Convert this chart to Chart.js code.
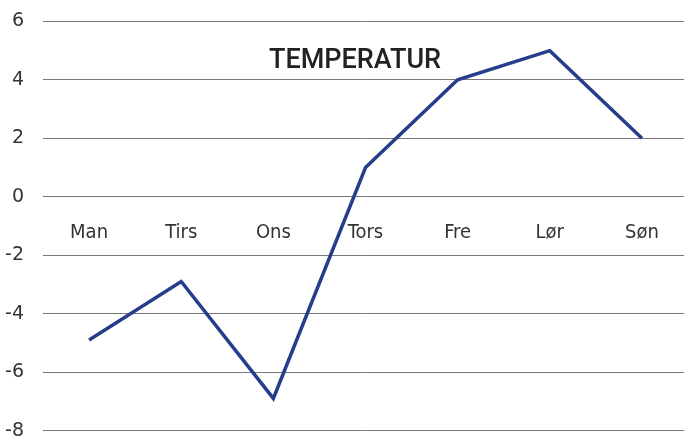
<!DOCTYPE html>
<html>
<head>
<meta charset="utf-8">
<script src="https://cdn.jsdelivr.net/npm/chart.js@4/dist/chart.umd.min.js"></script>
<style>
  html, body { margin: 0; padding: 0; background: #fff; overflow: hidden; }
  #wrap { width: 688px; height: 470px; margin-top: -9px; }
</style>
</head>
<body>
<div id="wrap"><canvas id="temp-chart"></canvas></div>
<script>
var days = ["Man", "Tirs", "Ons", "Tors", "Fre", "Lør", "Søn"];
var temperatures = [-4.9, -2.9, -6.9, 1, 4, 5, 2];
var tempTicks = [-8, -6, -4, -2, 0, 2, 4, 6];
var chartTitle = "TEMPERATUR";

// title sits inside the plot area, so draw it by hand
var innerTitle = {
    id: 'innerTitle',
    afterDraw: function (chart) {
        var ctx = chart.ctx;
        ctx.save();
        ctx.font = '500 27px Roboto';
        ctx.fillStyle = '#222';
        ctx.textAlign = 'center';
        ctx.textBaseline = 'middle';
        ctx.fillText(chartTitle, 355, 70);
        ctx.restore();
    }
};

var tempCtx = document.getElementById("temp-chart").getContext('2d');
var tempChart = new Chart(tempCtx, {
    type: 'line',
    data: {
        labels: days,
        datasets: [{
            label: chartTitle,
            data: temperatures,
            borderColor: '#263d8c',
            borderWidth: 3.5,
            pointRadius: 0,
            tension: 0,
            fill: false
        }]
    },
    options: {
        responsive: true,
        maintainAspectRatio: false,
        animation: false,
        layout: { padding: { top: 10, right: 0, bottom: 7, left: 0 } },
        plugins: {
            legend: { display: false },
            tooltip: { enabled: false }
        },
        scales: {
            x: {
                position: { y: 0 },
                offset: true,
                grid: { display: false },
                border: { display: false },
                ticks: {
                    color: '#333',
                    font: { family: 'DejaVu Sans Condensed', size: 20 },
                    padding: 16,
                    maxRotation: 0
                }
            },
            y: {
                min: -8,
                max: 6,
                afterBuildTicks: function (axis) {
                    axis.ticks = tempTicks.map(function (v) { return { value: v }; });
                },
                afterFit: function (axis) { axis.width = 43; },
                grid: { color: '#777', lineWidth: 1, drawTicks: false },
                border: { display: false },
                ticks: {
                    color: '#333',
                    font: { family: 'DejaVu Sans', size: 19 },
                    padding: 19
                }
            }
        }
    },
    plugins: [innerTitle]
});
</script>
</body>
</html>
